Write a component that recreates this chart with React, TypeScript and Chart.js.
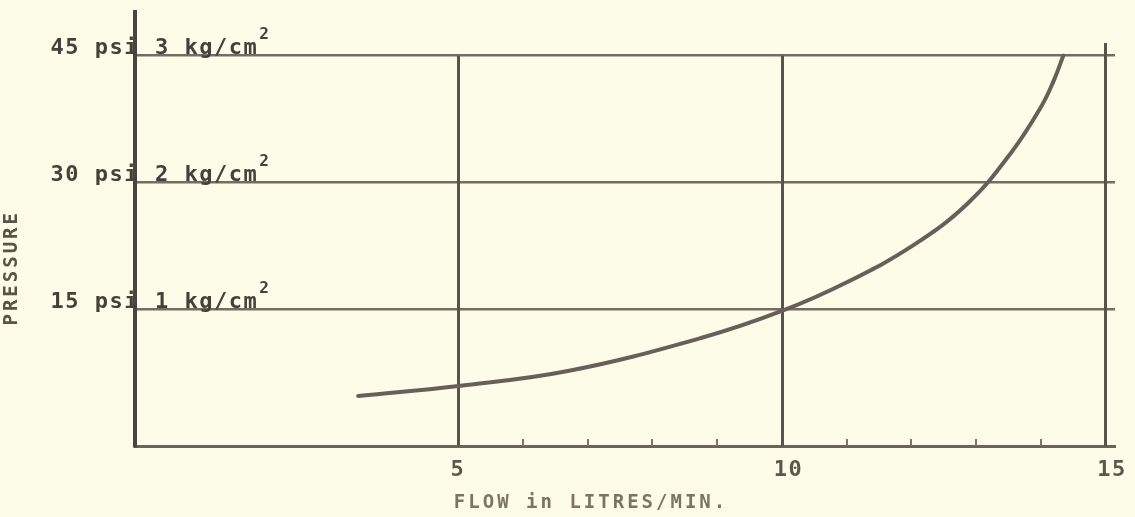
import { useEffect, useRef } from 'react';
import { Chart, registerables } from 'chart.js';

Chart.register(...registerables);

// Flow (litres/min) and pressure (kg/cm²)
const flowLpm = [3.45, 5.0, 6.69, 8.75, 10.0, 11.02, 12.04, 12.88, 13.55, 14.01, 14.2, 14.35];
const pressureKg = [0.32, 0.4, 0.517, 0.777, 0.99, 1.22, 1.51, 1.84, 2.24, 2.6, 2.8, 3.0];

// Pressure gridlines and their typed labels
const yGridValues = [1, 2, 3];
const psiLabels = ['15 psi', '30 psi', '45 psi'];
const kgLabels = ['1 kg/cm', '2 kg/cm', '3 kg/cm'];

// Flow axis
const xGridValues = [5, 10, 15];
const xTickLabels = ['5', '10', '15'];
const minorTickValues = [6, 7, 8, 9, 11, 12, 13, 14];

const xTitle = 'FLOW in LITRES/MIN.';
const yTitle = 'PRESSURE';

const PAPER = '#fdfce8';
const INK = '#45403a';
const INK_LIGHT = '#7d7466';
const LINE_DARK = '#58534b';
const GRID = '#736d62';
const CURVE = '#67605a';
const FONT = '"DejaVu Sans Mono", "Liberation Mono", monospace';

const typewriterPlugin = {
  id: 'typewriter',
  beforeDraw(chart: any) {
    const { ctx, width, height } = chart;
    ctx.save();
    ctx.fillStyle = PAPER;
    ctx.fillRect(0, 0, width, height);
    ctx.restore();
  },
  beforeDatasetsDraw(chart: any) {
    const { ctx } = chart;
    const x = chart.scales.x;
    const y = chart.scales.y;
    const bottom = y.getPixelForValue(y.min);
    ctx.save();
    ctx.strokeStyle = LINE_DARK;
    ctx.lineWidth = 3;
    xGridValues.forEach((v, i) => {
      const px = Math.round(x.getPixelForValue(v)) + 0.5;
      const topVal = i === xGridValues.length - 1 ? 3.1 : 3;
      ctx.beginPath();
      ctx.moveTo(px, y.getPixelForValue(topVal));
      ctx.lineTo(px, bottom);
      ctx.stroke();
    });
    ctx.strokeStyle = INK_LIGHT;
    ctx.lineWidth = 2;
    minorTickValues.forEach((v) => {
      const px = Math.round(x.getPixelForValue(v));
      ctx.beginPath();
      ctx.moveTo(px, bottom);
      ctx.lineTo(px, bottom - 7);
      ctx.stroke();
    });
    ctx.restore();
  },
  afterDatasetsDraw(chart: any) {
    const { ctx } = chart;
    const x = chart.scales.x;
    const y = chart.scales.y;
    const left = x.getPixelForValue(0);
    const bottom = y.getPixelForValue(y.min);
    ctx.save();
    ctx.textBaseline = 'alphabetic';
    ctx.fillStyle = INK;
    (ctx as any).letterSpacing = '1.5px';
    ctx.font = `bold 22px ${FONT}`;
    yGridValues.forEach((v, i) => {
      const py = y.getPixelForValue(v) - 2;
      ctx.textAlign = 'right';
      ctx.fillText(psiLabels[i], left + 4, py);
      ctx.textAlign = 'left';
      const startX = left + 20;
      ctx.fillText(kgLabels[i], startX, py);
      const w = ctx.measureText(kgLabels[i]).width;
      ctx.font = `bold 16px ${FONT}`;
      ctx.fillText('2', startX + w + 1, py - 15);
      ctx.font = `bold 22px ${FONT}`;
    });

    // x tick labels
    ctx.fillStyle = '#5e574c';
    ctx.font = `bold 22px ${FONT}`;
    ctx.textAlign = 'left';
    xGridValues.forEach((v, i) => {
      ctx.fillText(xTickLabels[i], x.getPixelForValue(v) - 8, bottom + 30);
    });

    // x title
    (ctx as any).letterSpacing = '3px';
    ctx.fillStyle = INK_LIGHT;
    ctx.font = `bold 19px ${FONT}`;
    ctx.textAlign = 'center';
    ctx.fillText(xTitle, x.getPixelForValue(7.05), bottom + 62);

    // y title
    ctx.fillStyle = '#5a5346';
    ctx.font = `bold 19px ${FONT}`;
    ctx.translate(left - 118, y.getPixelForValue(1.33));
    ctx.rotate(-Math.PI / 2);
    ctx.textAlign = 'center';
    ctx.fillText(yTitle, 0, 0);
    ctx.restore();
  },
};

export default function App() {
  const canvasRef = useRef<HTMLCanvasElement | null>(null);

  useEffect(() => {
    document.body.style.margin = '0';
    document.body.style.background = PAPER;
    const canvas = canvasRef.current;
    if (!canvas) return;
    const chart = new Chart(canvas, {
      type: 'line',
      data: {
        datasets: [
          {
            data: flowLpm.map((f, i) => ({ x: f, y: pressureKg[i] })),
            borderColor: CURVE,
            borderWidth: 4,
            pointRadius: 0,
            tension: 0.4,
            borderCapStyle: 'round',
            fill: false,
          },
        ],
      },
      options: {
        animation: false,
        responsive: false,
        devicePixelRatio: 1,
        layout: { padding: { left: 135, right: 20, top: 12, bottom: 71 } },
        plugins: { legend: { display: false }, tooltip: { enabled: false } },
        events: [],
        scales: {
          x: {
            type: 'linear',
            min: 0,
            max: 15.15,
            ticks: { display: false },
            grid: { display: false, drawTicks: false },
            border: { display: true, color: '#6a6459', width: 3 },
          },
          y: {
            type: 'linear',
            min: -0.073,
            max: 3.344,
            afterBuildTicks: (axis: any) => {
              axis.ticks = yGridValues.map((v) => ({ value: v }));
            },
            ticks: { display: false },
            grid: { display: true, drawTicks: false, color: GRID, lineWidth: 2.5 },
            border: { display: true, color: '#4a463f', width: 4 },
          },
        },
      } as any,
      plugins: [typewriterPlugin],
    });
    return () => chart.destroy();
  }, []);

  return (
    <div style={{ width: 1135, height: 517, background: PAPER }}>
      <canvas ref={canvasRef} width={1135} height={517} />
    </div>
  );
}
